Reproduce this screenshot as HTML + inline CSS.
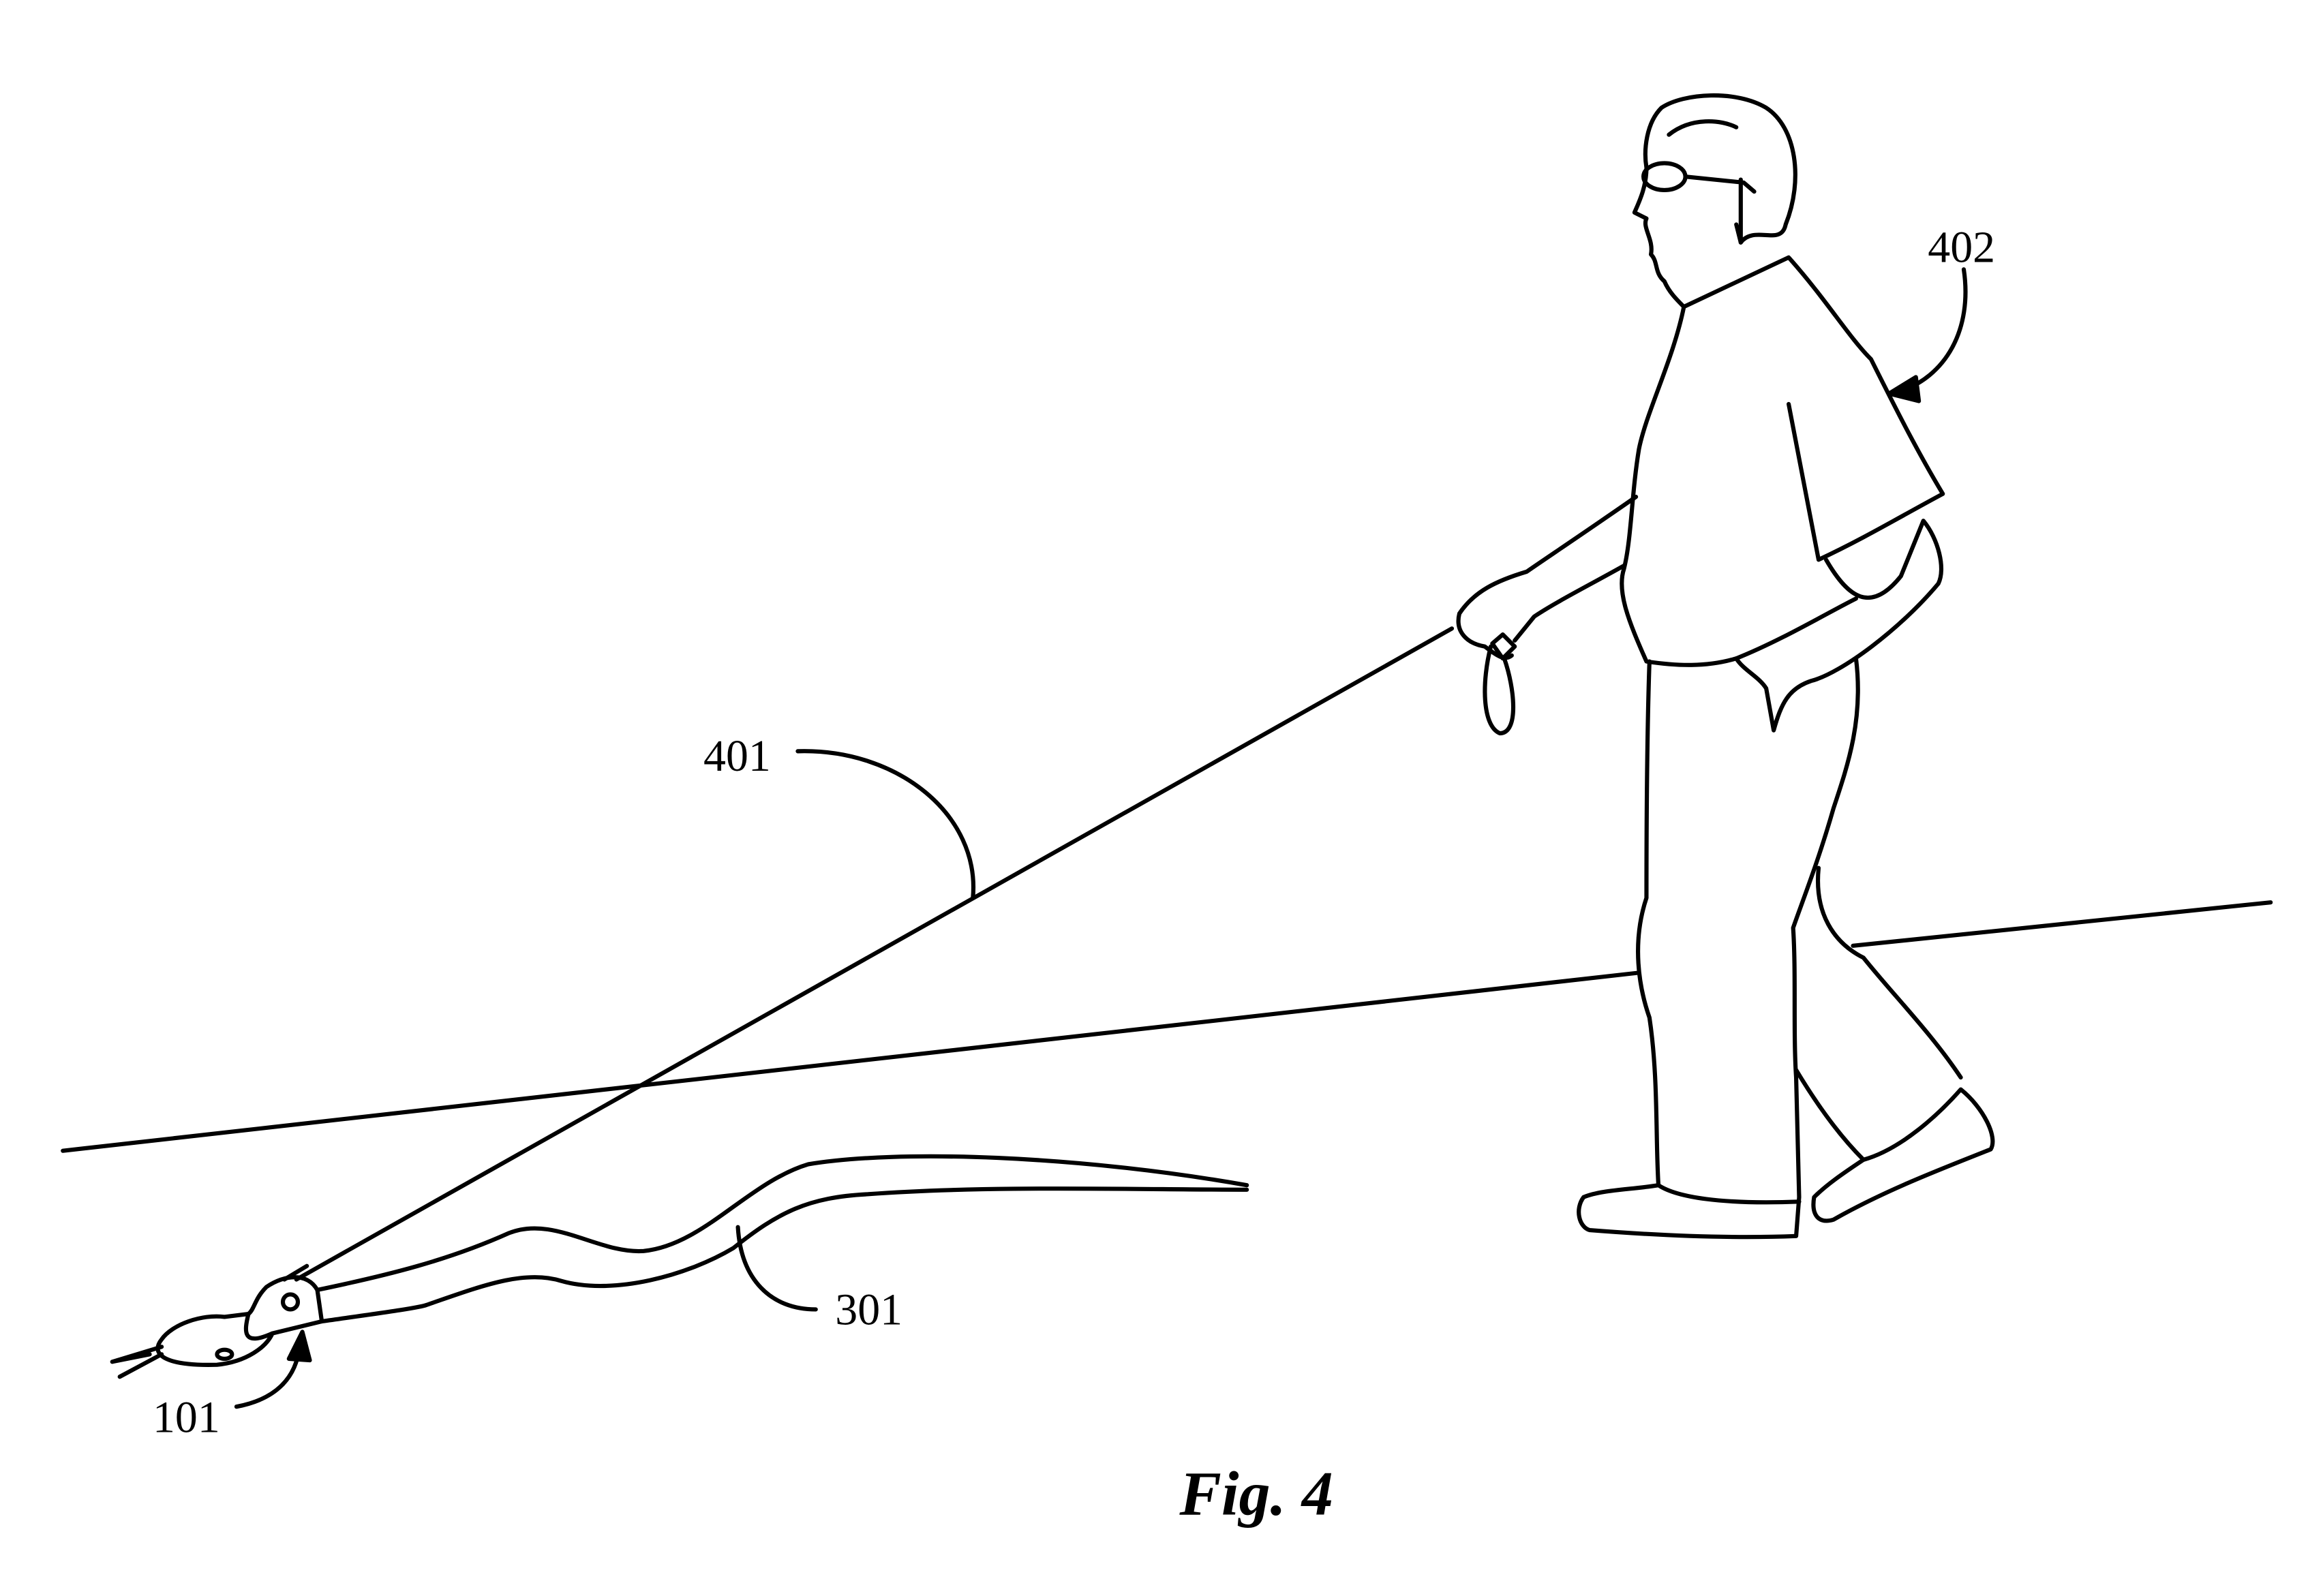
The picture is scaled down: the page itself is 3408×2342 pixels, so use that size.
<!DOCTYPE html>
<html><head><style>html,body{margin:0;padding:0;background:#fff}svg{display:block}</style></head>
<body>
<svg width="3408" height="2342" viewBox="0 0 1552 1066.5" xmlns="http://www.w3.org/2000/svg">
<g fill="none" stroke="#000" stroke-width="2.8" stroke-linejoin="round" stroke-linecap="round">
<path d="M42,769 L1095,650"/>
<path d="M1238,632 L1517,603"/>
<path d="M198,855 L970,420"/>
<path d="M190,855 L205,846"/>
<path d="M212,862 C260,852 300,842 340,824 C370,812 400,838 430,836 C470,832 500,790 540,778 C600,768 720,772 833,792"/>
<path d="M215,883 C250,878 280,874 285,872 C320,860 350,848 375,856 C410,866 460,852 490,834 C520,810 540,800 580,798 C660,792 760,795 833,795"/>
<path d="M212,862 C205,850 190,852 178,860 C170,868 170,875 166,878 L150,880 C135,878 115,885 108,895 C100,905 110,913 145,912 C165,910 178,900 182,891 L215,883 L212,862 Z"/>
<path d="M166,878 C163,890 162,900 182,891"/>
<circle cx="194" cy="870" r="5"/>
<ellipse cx="150" cy="905" rx="5" ry="3"/>
<path d="M108,900 L75,910 M108,905 L80,920 M75,910 L100,905"/>
<path d="M158,940 C185,935 198,920 200,900"/>
<path d="M193,908 L202,890 L207,909 Z" fill="#000"/>
<path d="M533,502 C600,500 655,545 650,600"/>
<path d="M545,875 C515,875 495,855 493,820"/>
<path d="M1312,180 C1318,220 1300,252 1268,262"/>
<path d="M1280,252 L1262,263 L1282,268 Z" fill="#000"/>
<path d="M1163,162 C1172,150 1190,165 1193,150 C1205,120 1200,85 1180,72 C1160,60 1125,62 1110,72 C1100,82 1098,100 1100,112 C1100,125 1095,135 1092,142 L1100,146 C1097,152 1105,160 1103,170 C1108,175 1105,182 1112,188 C1115,195 1120,200 1125,205"/>
<path d="M1115,90 C1130,78 1150,80 1160,85"/>
<ellipse cx="1112" cy="118" rx="14" ry="9"/>
<path d="M1126,118 L1165,122 L1172,128 M1160,150 L1163,162 L1163,120"/>
<path d="M1125,205 L1195,172 C1220,200 1235,225 1250,240 C1265,270 1280,300 1298,330 C1270,345 1245,360 1215,374 L1195,270"/>
<path d="M1125,205 C1118,240 1100,275 1095,300 C1090,330 1090,360 1085,380 C1080,395 1088,415 1100,442 C1120,445 1140,446 1160,440 C1190,428 1220,410 1240,400"/>
<path d="M1093,332 C1060,355 1030,375 1020,382 C1000,388 985,395 975,410 C972,422 980,430 992,432 C1000,438 1005,442 1010,438 M1085,378 C1060,392 1040,402 1025,412 L1012,428"/>
<path d="M996,432 C990,455 990,485 1002,490 C1015,490 1012,460 1005,440"/>
<path d="M997,430 L1004,424 L1012,432 L1004,440 Z"/>
<path d="M1220,374 C1235,400 1250,410 1270,385 L1285,348 C1295,360 1300,380 1295,390 C1270,420 1230,450 1210,455 C1195,460 1190,470 1185,488 L1180,460 C1175,452 1165,448 1160,440"/>
<path d="M1102,442 C1100,500 1100,570 1100,600 C1090,630 1095,660 1102,680 C1108,720 1106,760 1108,792"/>
<path d="M1108,792 C1090,795 1070,795 1058,800 C1052,808 1055,820 1062,822 C1100,825 1150,828 1200,826 L1202,800 L1200,720 C1198,690 1200,650 1198,620 C1205,600 1215,575 1225,540 C1235,510 1245,480 1240,440"/>
<path d="M1108,792 C1120,800 1150,805 1202,803"/>
<path d="M1215,580 C1212,610 1225,630 1245,640 C1265,665 1290,690 1310,720"/>
<path d="M1200,715 C1215,740 1230,760 1245,775 C1230,785 1220,792 1212,800 C1210,812 1215,818 1225,815 C1260,795 1300,780 1330,768 C1335,760 1325,740 1310,728 C1295,745 1270,768 1245,775"/>
</g>
<g font-family="Liberation Serif, serif" font-size="30" fill="#000">
<text x="470" y="515">401</text>
<text x="1288" y="175">402</text>
<text x="558" y="885">301</text>
<text x="102" y="957">101</text>
<text x="788" y="1012" font-size="42" font-weight="bold" font-style="italic">Fig. 4</text>
</g>
</svg>
</body></html>
